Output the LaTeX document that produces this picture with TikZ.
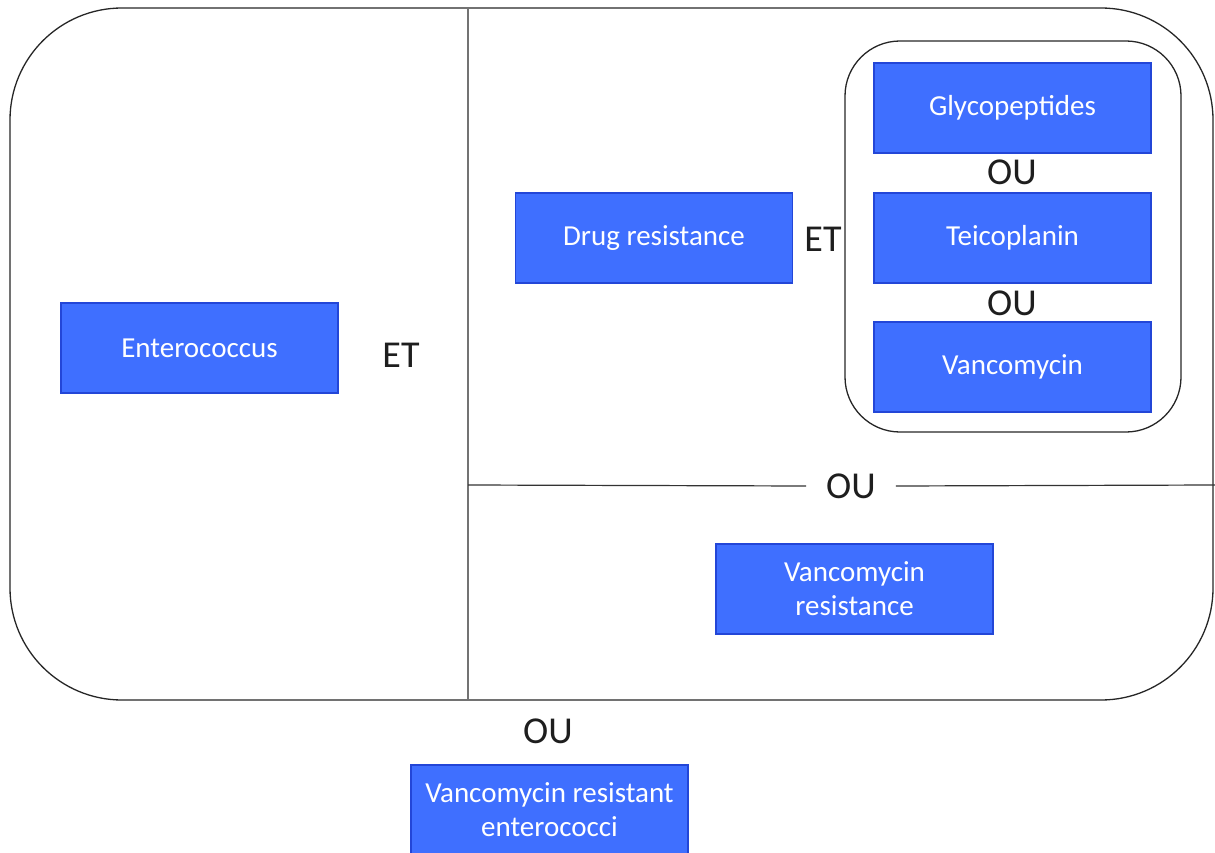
\documentclass[tikz,border=0pt]{standalone}
\usepackage{fontspec}
\setmainfont{Carlito}
\definecolor{boxblue}{RGB}{63,111,255}
\definecolor{boxedge}{RGB}{35,70,215}
\definecolor{labelgray}{RGB}{30,30,30}
\begin{document}
\begin{tikzpicture}[x=1pt,y=-1pt,
  bluebox/.style={draw=boxedge,line width=1.2pt,fill=boxblue,text=white,
    minimum width=277pt,minimum height=90pt,inner sep=0pt,align=center,
    font=\fontsize{29}{34}\selectfont},
  oplabel/.style={text=labelgray,inner sep=0pt,font=\fontsize{38}{44}\selectfont},
  frame/.style={draw=black!85,line width=1.3pt},
  divider/.style={draw=black!55,line width=1.2pt}]
\useasboundingbox (0,0) rectangle (1215,853);
% outer frame
\draw[frame,rounded corners=112pt] (10,8) rectangle (1213,700);
% dividers
\coordinate (vtop) at (468,8);
\coordinate (vbot) at (468,700);
\coordinate (hl) at (468,485);
\coordinate (hr) at (1215,485);
\draw[divider] (vtop) -- (vbot);
% inner frame
\draw[frame,rounded corners=55pt] (845,41) rectangle (1181,432);
% boxes
\node[bluebox] (gly) at (1012.5,108) {Glycopeptides};
\node[bluebox] (tei) at (1012.5,238) {Teicoplanin};
\node[bluebox] (van) at (1012.5,367) {Vancomycin};
\node[bluebox] (drug) at (654,238) {Drug resistance};
\node[bluebox] (ent) at (199.5,348) {Enterococcus};
\node[bluebox] (vres) at (854.5,589) {Vancomycin\\resistance};
\node[bluebox] (vre) at (549.5,810) {Vancomycin resistant\\enterococci};
% labels
\node[oplabel] (ou1) at (1012,172) {OU};
\node[oplabel] (ou2) at (1012,303) {OU};
\node[oplabel] (et1) at (823,239) {ET};
\node[oplabel] (et2) at (401,355) {ET};
\node[oplabel,fill=white,inner xsep=20pt] (ou3) at (851,486) {OU};
\node[oplabel] (ou4) at (548,731) {OU};
\draw[divider,draw=black!80] (hl) -- (ou3.west);
\draw[divider,draw=black!80] (ou3.east) -- (hr);
\end{tikzpicture}
\end{document}
